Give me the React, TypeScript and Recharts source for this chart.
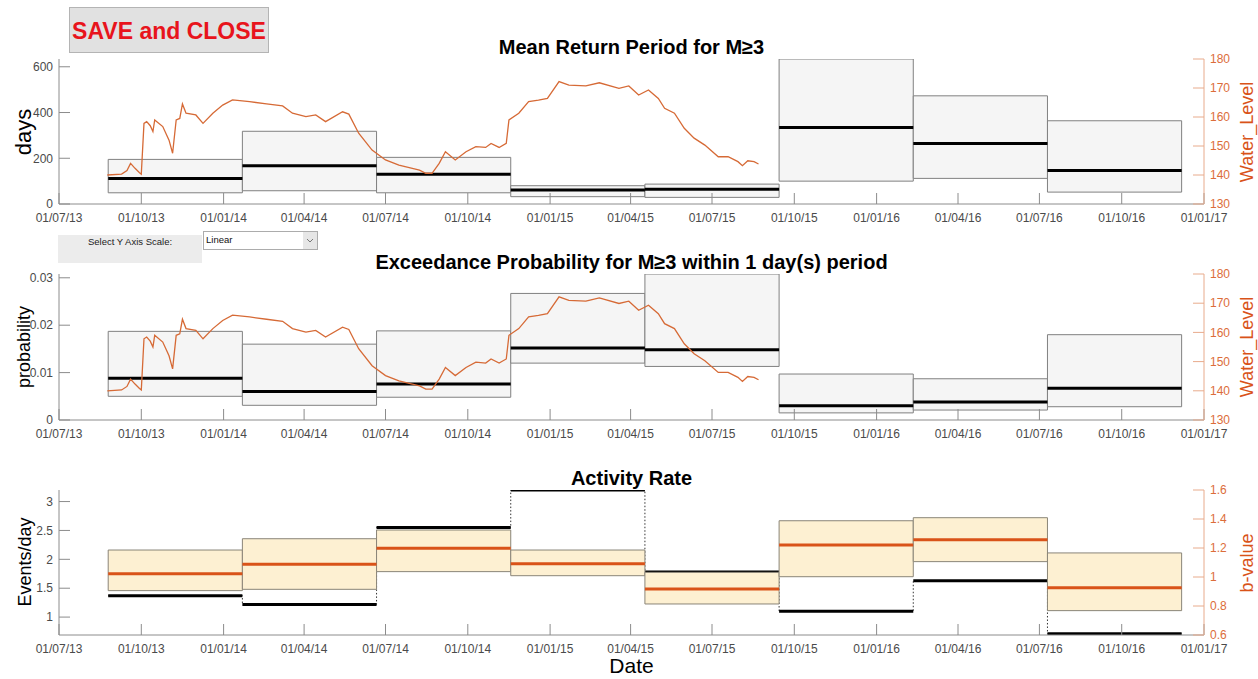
import React from 'react';
import { ComposedChart, Line, XAxis, YAxis, ReferenceArea, ReferenceLine } from 'recharts';

const FONT = '"Liberation Sans", Arial, Helvetica, sans-serif';
const DAY_MS = 86400000;
const START = Date.parse('2013-07-01');

// x axis ticks (dd/mm/yy)
const xTickDates = [
  '2013-07-01', '2013-10-01', '2014-01-01', '2014-04-01', '2014-07-01',
  '2014-10-01', '2015-01-01', '2015-04-01', '2015-07-01', '2015-10-01',
  '2016-01-01', '2016-04-01', '2016-07-01', '2016-10-01', '2017-01-01',
];

// window edges (8 windows)
const binEdges = [
  '2013-08-25', '2014-01-22', '2014-06-21', '2014-11-18', '2015-04-17',
  '2015-09-14', '2016-02-11', '2016-07-10', '2016-12-07',
];

// mean return period (days)
const returnMedian = [112, 167, 130, 61, 64, 335, 265, 146];
const returnLow = [49, 58, 49, 32, 29, 100, 112, 52];
const returnHigh = [195, 318, 204, 80, 87, 634, 473, 364];

// exceedance probability
const exceedMedian = [0.0088, 0.006, 0.0076, 0.0152, 0.0148, 0.003, 0.0038, 0.0067];
const exceedLow = [0.005, 0.0031, 0.0048, 0.012, 0.0113, 0.0015, 0.0021, 0.0028];
const exceedHigh = [0.0187, 0.016, 0.0188, 0.0267, 0.0308, 0.0097, 0.0087, 0.018];

// activity rate (events/day)
const rateValues = [1.37, 1.22, 2.55, 3.2, 1.78, 1.1, 1.63, 0.71];

// b-value
const bMedian = [1.023, 1.088, 1.198, 1.092, 0.917, 1.221, 1.257, 0.926];
const bLow = [0.906, 0.915, 1.037, 1.009, 0.814, 1.002, 1.106, 0.768];
const bHigh = [1.186, 1.264, 1.324, 1.186, 1.032, 1.388, 1.409, 1.166];

// water level
const waterDates = [
  '2013-08-24', '2013-09-09', '2013-09-15', '2013-09-19', '2013-09-24', '2013-09-29',
  '2013-10-01', '2013-10-04', '2013-10-07', '2013-10-11', '2013-10-14', '2013-10-16',
  '2013-10-25', '2013-11-01', '2013-11-05', '2013-11-09', '2013-11-13', '2013-11-16',
  '2013-11-20', '2013-12-01', '2013-12-09', '2013-12-20', '2013-12-31', '2014-01-11',
  '2014-01-30', '2014-02-18', '2014-03-08', '2014-03-19', '2014-04-03', '2014-04-14',
  '2014-04-25', '2014-05-14', '2014-05-21', '2014-06-01', '2014-06-16', '2014-07-01',
  '2014-07-16', '2014-07-31', '2014-08-08', '2014-08-15', '2014-08-22', '2014-08-30',
  '2014-09-06', '2014-09-17', '2014-09-29', '2014-10-10', '2014-10-21', '2014-10-27',
  '2014-11-05', '2014-11-13', '2014-11-16', '2014-11-27', '2014-12-08', '2014-12-19',
  '2014-12-29', '2015-01-11', '2015-01-22', '2015-02-10', '2015-02-25', '2015-03-19',
  '2015-03-30', '2015-04-10', '2015-04-21', '2015-05-02', '2015-05-09', '2015-05-20',
  '2015-05-31', '2015-06-11', '2015-06-23', '2015-07-08', '2015-07-19', '2015-07-30',
  '2015-08-04', '2015-08-10', '2015-08-17', '2015-08-22',
];
const waterLevel = [
  140.0, 140.3, 141.5, 144.0, 142.3, 140.8,
  140.3, 157.8, 158.4, 157.0, 155.0, 159.0,
  156.7, 152.0, 147.5, 159.0, 159.5, 164.5,
  161.3, 160.7, 157.8, 161.3, 164.1, 165.9,
  165.3, 164.5, 163.8, 161.3, 160.1, 160.7,
  158.4, 161.8, 161.0, 154.4, 148.6, 145.2,
  143.4, 142.3, 141.7, 140.6, 140.6, 144.0,
  148.0, 145.2, 148.0, 149.8, 149.5, 150.9,
  149.5, 150.9, 159.0, 161.3, 165.3, 165.8,
  166.4, 172.2, 171.0, 170.7, 171.8, 169.9,
  170.7, 167.6, 169.3, 166.4, 163.0, 161.3,
  156.1, 152.7, 150.3, 146.3, 146.3, 144.6,
  143.2, 144.9, 144.6, 143.8,
];

const toDay = (s: string) => Math.round((Date.parse(s) - START) / DAY_MS);
const pad = (n: number) => String(n).padStart(2, '0');
const fmtDate = (d: number) => {
  const t = new Date(START + d * DAY_MS);
  return `${pad(t.getUTCDate())}/${pad(t.getUTCMonth() + 1)}/${pad(t.getUTCFullYear() % 100)}`;
};

const xTicks = xTickDates.map(toDay);
const xDomain = [xTicks[0], xTicks[xTicks.length - 1]];
const edges = binEdges.map(toDay);
const waterData = waterDates.map((d, i) => ({ day: toDay(d), level: waterLevel[i] }));
const rateStairs = edges.map((e, i) => ({ day: e, rate: rateValues[Math.min(i, rateValues.length - 1)] }));

const axisGrey = '#8c8c8c';
const textGrey = '#4a4a4a';
const orange = '#D95319';
const orangeAxis = '#e8ab8c';
const orangeText = '#dc6d3a';

const W = 1258;
const LEFT_W = 59;
const RIGHT_W = 54;
const PAD_TOP = 10;
const MARGIN = { top: PAD_TOP, right: 0, bottom: 0, left: 0 };

function bottomAxis(invisible = false) {
  return (
    <XAxis
      dataKey="day"
      type="number"
      domain={xDomain}
      ticks={xTicks}
      interval={0}
      allowDataOverflow
      tickFormatter={fmtDate}
      height={30}
      tickSize={-11}
      tickMargin={20}
      axisLine={invisible ? false : { stroke: axisGrey }}
      tickLine={invisible ? false : { stroke: axisGrey }}
      tick={invisible ? false : { fill: textGrey, fontSize: 12, fontFamily: FONT }}
    />
  );
}

function leftAxis(domain: number[], ticks: number[], invisible = false) {
  return (
    <YAxis
      yAxisId="left"
      orientation="left"
      type="number"
      width={LEFT_W}
      domain={domain}
      ticks={ticks}
      interval={0}
      allowDataOverflow
      tickSize={-11}
      tickMargin={17}
      axisLine={invisible ? false : { stroke: axisGrey }}
      tickLine={invisible ? false : { stroke: axisGrey }}
      tick={invisible ? false : { fill: textGrey, fontSize: 12, fontFamily: FONT }}
    />
  );
}

function rightAxis(domain: number[], ticks: number[], invisible = false) {
  return (
    <YAxis
      yAxisId="right"
      orientation="right"
      type="number"
      width={RIGHT_W}
      domain={domain}
      ticks={ticks}
      interval={0}
      allowDataOverflow
      tickSize={-11}
      tickMargin={17}
      axisLine={invisible ? false : { stroke: orangeAxis }}
      tickLine={invisible ? false : { stroke: orangeAxis }}
      tick={invisible ? false : { fill: orangeText, fontSize: 12, fontFamily: FONT }}
    />
  );
}

function boxes(low: number[], high: number[], fill: string, stroke: string, yAxisId: string) {
  return low.map((lo, i) => (
    <ReferenceArea
      key={`box-${yAxisId}-${i}`}
      yAxisId={yAxisId}
      x1={edges[i]}
      x2={edges[i + 1]}
      y1={lo}
      y2={high[i]}
      fill={fill}
      fillOpacity={1}
      stroke={stroke}
      strokeWidth={1}
      ifOverflow="hidden"
    />
  ));
}

function levels(values: number[], color: string, yAxisId: string, width = 3) {
  return values.map((v, i) => (
    <ReferenceLine
      key={`lvl-${yAxisId}-${color}-${i}`}
      yAxisId={yAxisId}
      segment={[{ x: edges[i], y: v }, { x: edges[i + 1], y: v }]}
      stroke={color}
      strokeWidth={width}
      ifOverflow="hidden"
    />
  ));
}

function waterLine() {
  return (
    <Line
      yAxisId="right"
      dataKey="level"
      type="linear"
      stroke="#d66a36"
      strokeWidth={1.3}
      dot={false}
      activeDot={false}
      isAnimationActive={false}
    />
  );
}

const abs = (left: number, top: number): React.CSSProperties => ({ position: 'absolute', left, top });

function Title({ y, text }: { y: number; text: string }) {
  return (
    <div
      style={{
        ...abs(LEFT_W, y - 12),
        width: W - LEFT_W - RIGHT_W,
        textAlign: 'center',
        fontWeight: 'bold',
        fontSize: 20,
        lineHeight: '24px',
        color: '#000',
        whiteSpace: 'nowrap',
      }}
    >
      {text}
    </div>
  );
}

function VLabel({ x, y, text, size, color }: { x: number; y: number; text: string; size: number; color: string }) {
  return (
    <div
      style={{
        ...abs(x, y),
        transform: 'translate(-50%, -50%) rotate(-90deg)',
        fontSize: size,
        lineHeight: `${size + 2}px`,
        color,
        whiteSpace: 'nowrap',
      }}
    >
      {text}
    </div>
  );
}

export default function App() {
  return (
    <div style={{ position: 'absolute', left: 0, top: 0, width: W, height: 679, background: '#fff', fontFamily: FONT, overflow: 'hidden' }}>
      {/* Mean return period */}
      <div style={abs(0, 59 - PAD_TOP)}>
        <ComposedChart width={W} height={175 + PAD_TOP} data={waterData} margin={MARGIN}>
          {bottomAxis()}
          {leftAxis([0, 634], [0, 200, 400, 600])}
          {rightAxis([130, 180], [130, 140, 150, 160, 170, 180])}
          {boxes(returnLow, returnHigh, '#f5f5f5', '#808080', 'left')}
          {levels(returnMedian, '#000', 'left')}
          {waterLine()}
        </ComposedChart>
      </div>

      {/* Exceedance probability */}
      <div style={abs(0, 274 - PAD_TOP)}>
        <ComposedChart width={W} height={176 + PAD_TOP} data={waterData} margin={MARGIN}>
          {bottomAxis()}
          {leftAxis([0, 0.0308], [0, 0.01, 0.02, 0.03])}
          {rightAxis([130, 180], [130, 140, 150, 160, 170, 180])}
          {boxes(exceedLow, exceedHigh, '#f5f5f5', '#808080', 'left')}
          {levels(exceedMedian, '#000', 'left')}
          {waterLine()}
        </ComposedChart>
      </div>

      {/* Activity rate stairs (drawn underneath the b-value boxes) */}
      <div style={abs(0, 490 - PAD_TOP)}>
        <ComposedChart width={W} height={175 + PAD_TOP} data={rateStairs} margin={MARGIN}>
          {bottomAxis(true)}
          {leftAxis([0.69, 3.2], [1, 1.5, 2, 2.5, 3], true)}
          {rightAxis([0.6, 1.6], [0.6, 0.8, 1, 1.2, 1.4, 1.6], true)}
          <Line
            yAxisId="left"
            dataKey="rate"
            type="stepAfter"
            stroke="#333"
            strokeWidth={1}
            strokeDasharray="1.5 2"
            dot={false}
            activeDot={false}
            isAnimationActive={false}
          />
          {levels(rateValues, '#000', 'left')}
        </ComposedChart>
      </div>

      {/* b-value boxes on top */}
      <div style={abs(0, 490 - PAD_TOP)}>
        <ComposedChart width={W} height={175 + PAD_TOP} data={rateStairs} margin={MARGIN}>
          {bottomAxis()}
          {leftAxis([0.69, 3.2], [1, 1.5, 2, 2.5, 3])}
          {rightAxis([0.6, 1.6], [0.6, 0.8, 1, 1.2, 1.4, 1.6])}
          {boxes(bLow, bHigh, '#fdf0d2', '#8a8578', 'right')}
          {levels(bMedian, orange, 'right')}
        </ComposedChart>
      </div>

      {/* titles and labels */}
      <Title y={47} text="Mean Return Period for M≥3" />
      <Title y={262} text="Exceedance Probability for M≥3 within 1 day(s) period" />
      <Title y={478} text="Activity Rate" />

      <VLabel x={24} y={132} text="days" size={22} color="#000" />
      <VLabel x={24} y={347} text="probability" size={18} color="#000" />
      <VLabel x={25} y={562} text="Events/day" size={18} color="#000" />
      <VLabel x={1247} y={132} text="Water_Level" size={18} color={orange} />
      <VLabel x={1247} y={347} text="Water_Level" size={18} color={orange} />
      <VLabel x={1247} y={563} text="b-value" size={18} color={orange} />

      <div style={{ ...abs(LEFT_W, 655), width: W - LEFT_W - RIGHT_W, textAlign: 'center', fontSize: 21, lineHeight: '22px', color: '#000' }}>
        Date
      </div>

      {/* SAVE and CLOSE button */}
      <div
        style={{
          ...abs(69, 7),
          width: 200,
          height: 46,
          boxSizing: 'border-box',
          background: '#e1e1e1',
          border: '1px solid #b4b4b4',
          color: '#e8141c',
          fontWeight: 'bold',
          fontSize: 23,
          lineHeight: '46px',
          textAlign: 'center',
          whiteSpace: 'nowrap',
        }}
      >
        SAVE and CLOSE
      </div>

      {/* y scale selector */}
      <div style={{ ...abs(58, 235), width: 144, height: 28, background: '#ececec' }}>
        <div style={{ paddingTop: 1, textAlign: 'center', fontSize: 9.5, lineHeight: '12px', color: '#222', whiteSpace: 'nowrap' }}>
          Select Y Axis Scale:
        </div>
      </div>
      <div
        style={{
          ...abs(203, 231),
          width: 115,
          height: 19,
          boxSizing: 'border-box',
          background: '#fff',
          border: '1px solid #acacac',
          fontSize: 9.5,
          lineHeight: '15px',
          color: '#111',
          paddingLeft: 2,
        }}
      >
        Linear
        <div style={{ position: 'absolute', right: 0, top: 0, width: 14, height: 17, background: '#e6e6e6' }}>
          <svg width={14} height={17}>
            <polyline points="4,7 7,10 10,7" fill="none" stroke="#777" strokeWidth={1} />
          </svg>
        </div>
      </div>
    </div>
  );
}
